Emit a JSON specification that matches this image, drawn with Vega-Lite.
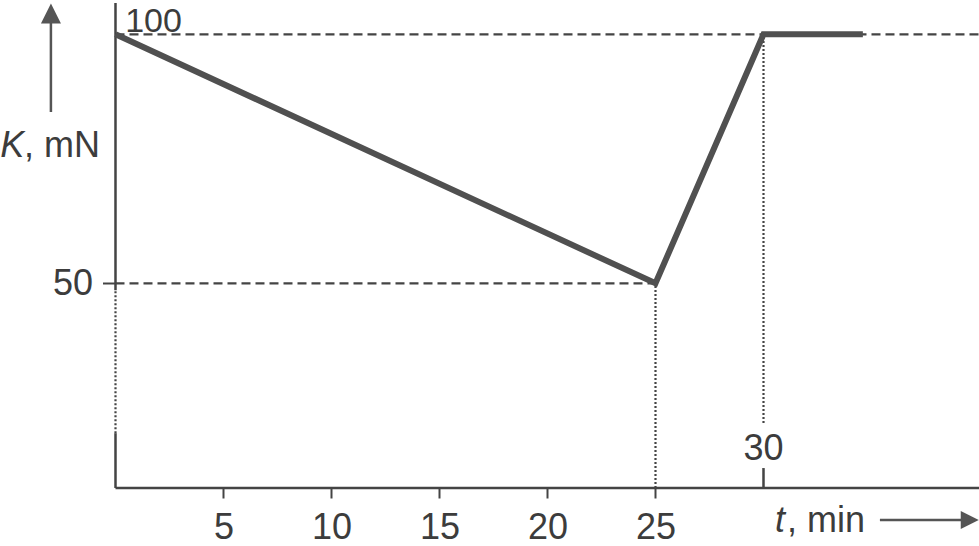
{
  "$schema": "https://vega.github.io/schema/vega-lite/v6.json",
  "width": 979,
  "height": 546,
  "autosize": {"type": "none"},
  "padding": 0,
  "background": "white",
  "config": {"view": {"stroke": null}, "font": "Liberation Sans"},
  "datasets": {
    "curve": [{"t": 0, "k": 100}, {"t": 25, "k": 50}, {"t": 30, "k": 100}, {"t": 34.6, "k": 100}],
    "hsolid": [{"t": 0, "t2": 39.98, "k": 8.9}],
    "vsolid": [{"t": 0, "k": 48.6, "k2": 106.3}, {"t": 0, "k": 8.9, "k2": 19.9}, {"t": 30, "k": 8.9, "k2": 12.9}],
    "hdash": [{"t": 0, "t2": 39.98, "k": 100}, {"t": 0, "t2": 25, "k": 50}],
    "vdot": [{"t": 0, "k": 19.9, "k2": 48.6}, {"t": 25, "k": 8.9, "k2": 50}, {"t": 30, "k": 21.95, "k2": 100}],
    "vshaft": [{"t": -2.99, "k": 84.4, "k2": 102.5}],
    "hshaft": [{"t": 35.39, "t2": 39.2, "k": 2.47}],
    "uphead": [{"t": -2.99, "k": 104.18}],
    "righthead": [{"t": 39.55, "k": 2.47}],
    "toplabel": [{"t": 0.45, "k": 100.5, "label": "100"}],
    "labels": [{"t": -4.236, "k": 75.36, "label": ", mN"}, {"t": 31.09, "k": 0.06, "label": ", min"}],
    "center_labels": [{"t": 30, "k": 14.52, "label": "30"}],
    "italic_labels": [{"t": -5.33, "k": 75.36, "label": "K"}, {"t": 30.53, "k": 0.06, "label": "t"}]
  },
  "encoding": {
    "x": {
      "field": "t", "type": "quantitative",
      "scale": {"domain": [-5.347, 39.977], "nice": false, "zero": false},
      "axis": {"values": [5, 10, 15, 20, 25], "offset": -58, "domain": false, "grid": false, "tickSize": 10, "tickWidth": 2, "tickColor": "#444444", "labelFontSize": 36, "labelFont": "Liberation Sans", "labelColor": "#3c3c3c", "labelPadding": 12, "labelFlush": false, "title": null}
    },
    "y": {
      "field": "k", "type": "quantitative",
      "scale": {"domain": [-2.75, 106.89], "nice": false, "zero": false},
      "axis": {"values": [50], "offset": -115.5, "domain": false, "grid": false, "tickSize": 13, "tickWidth": 2, "tickColor": "#444444", "labelFontSize": 36, "labelFont": "Liberation Sans", "labelColor": "#3c3c3c", "labelPadding": 10, "title": null}
    }
  },
  "layer": [
    {"data": {"name": "hsolid"}, "mark": {"type": "rule", "color": "#444444", "strokeWidth": 2.5}, "encoding": {"x2": {"field": "t2"}}},
    {"data": {"name": "vsolid"}, "mark": {"type": "rule", "color": "#444444", "strokeWidth": 2.5}, "encoding": {"y2": {"field": "k2"}}},
    {"data": {"name": "hdash"}, "mark": {"type": "rule", "color": "#444444", "strokeWidth": 2.2, "strokeDash": [9, 5]}, "encoding": {"x2": {"field": "t2"}}},
    {"data": {"name": "vdot"}, "mark": {"type": "rule", "color": "#444444", "strokeWidth": 2.2, "strokeDash": [2, 2]}, "encoding": {"y2": {"field": "k2"}}},
    {"data": {"name": "curve"}, "mark": {"type": "line", "color": "#505050", "strokeWidth": 6, "strokeJoin": "miter", "strokeCap": "butt"}, "encoding": {}},
    {"data": {"name": "vshaft"}, "mark": {"type": "rule", "color": "#555555", "strokeWidth": 2.5}, "encoding": {"y2": {"field": "k2"}}},
    {"data": {"name": "hshaft"}, "mark": {"type": "rule", "color": "#555555", "strokeWidth": 2.5}, "encoding": {"x2": {"field": "t2"}}},
    {"data": {"name": "uphead"}, "mark": {"type": "point", "shape": "M-1,1L1,1L0,-1Z", "filled": true, "color": "#555555", "size": 400, "opacity": 1}, "encoding": {}},
    {"data": {"name": "righthead"}, "mark": {"type": "point", "shape": "M-1,-1L1,0L-1,1Z", "filled": true, "color": "#555555", "size": 324, "opacity": 1}, "encoding": {}},
    {"data": {"name": "toplabel"}, "mark": {"type": "text", "align": "left", "baseline": "alphabetic", "fontSize": 34, "font": "Liberation Sans", "color": "#3c3c3c"}, "encoding": {"text": {"field": "label"}}},
    {"data": {"name": "labels"}, "mark": {"type": "text", "align": "left", "baseline": "alphabetic", "fontSize": 36, "font": "Liberation Sans", "color": "#3c3c3c"}, "encoding": {"text": {"field": "label"}}},
    {"data": {"name": "center_labels"}, "mark": {"type": "text", "align": "center", "baseline": "alphabetic", "fontSize": 36, "font": "Liberation Sans", "color": "#3c3c3c"}, "encoding": {"text": {"field": "label"}}},
    {"data": {"name": "italic_labels"}, "mark": {"type": "text", "align": "left", "baseline": "alphabetic", "fontSize": 36, "font": "Liberation Sans", "fontStyle": "italic", "color": "#3c3c3c"}, "encoding": {"text": {"field": "label"}}}
  ]
}
